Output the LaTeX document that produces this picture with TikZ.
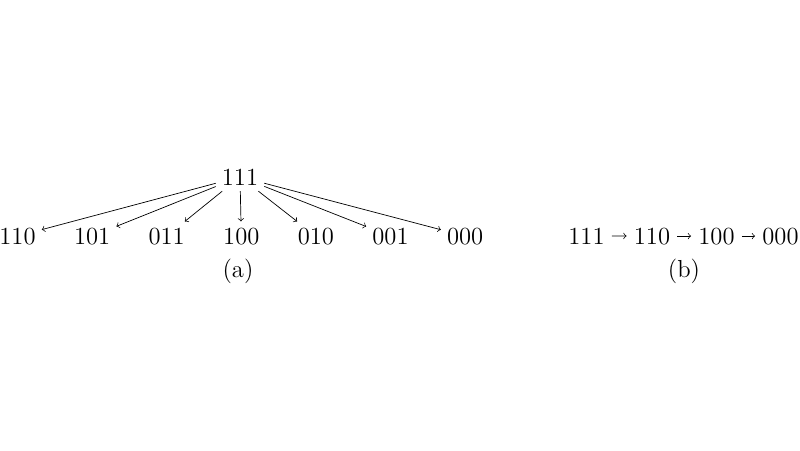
\documentclass[tikz,border=0pt]{standalone}
\usepackage{tikz}
\newcommand{\colstep}{74.6}
\newcommand{\labfont}{\fontsize{14}{17}\selectfont}

\begin{document}
\begin{tikzpicture}[x=0.02cm, y=-0.02cm, every node/.style={font=\labfont, anchor=base}, seq/.style={inner xsep=4pt}]
      \useasboundingbox (0,0) rectangle (800,450);
      % (a)
      \node (top) at (240,185) {111};
      \foreach \s [count=\i from 0] in {110,101,011,100,010,001,000}
      {
        \node (b\i) at (17.5+\colstep*\i,244) {\s};
        \draw[->] (top) -- (b\i);
      }
      \node (capa) at (238,277) {(a)};

      % (b)
      \node (s0) at (586.5,244) [seq] {111};
      \node (s1) at (652,244) [seq] {110};
      \node (s2) at (716.5,244) [seq] {100};
      \node (s3) at (780.5,244) [seq] {000};
      \draw[->] (s0) -- (s1);
      \draw[->] (s1) -- (s2);
      \draw[->] (s2) -- (s3);

      \node (capb) at (684,277) {(b)};
    \end{tikzpicture}
\end{document}
